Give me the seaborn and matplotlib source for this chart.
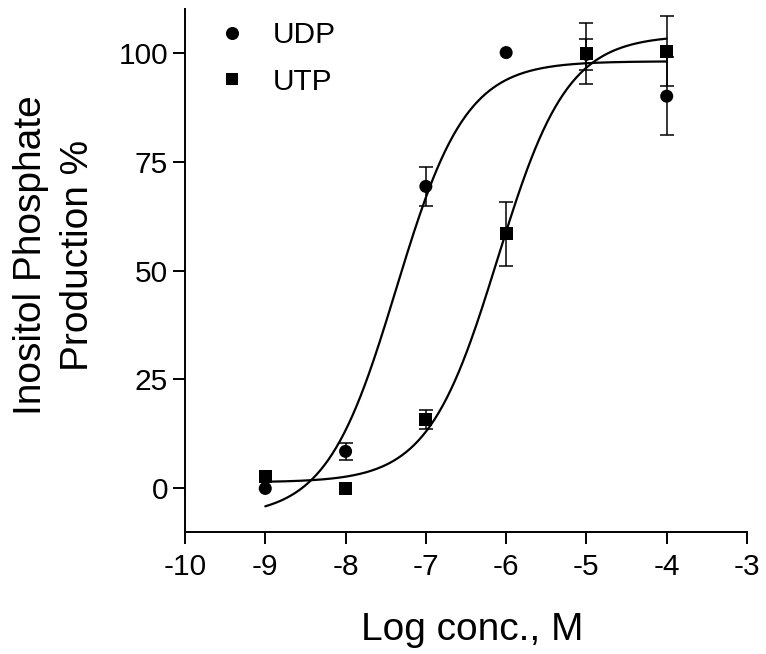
import numpy as np
import pandas as pd
import matplotlib
matplotlib.use("Agg")
import matplotlib.pyplot as plt
import seaborn as sns
from matplotlib.lines import Line2D

# ---------------- data ----------------
log_conc = [-9, -8, -7, -6, -5, -4]
udp_mean = [0.0, 8.5, 69.3, 100.0, 99.6, 90.0]
udp_err = [np.nan, 1.9, 4.5, np.nan, 3.5, 9.0]
utp_mean = [2.8, 0.0, 15.8, 58.4, 99.8, 100.3]
utp_err = [np.nan, np.nan, 2.2, 7.4, 6.9, 8.0]

# fitted sigmoid dose-response parameters (bottom, top, logEC50, Hill slope)
udp_fit = dict(bottom=-6.5, top=98.0, logec50=-7.37, hill=1.0)
utp_fit = dict(bottom=1.4, top=104.0, logec50=-6.106, hill=1.0)
curve_range = (-9.0, -4.0)

series_names = ["UDP", "UTP"]
x_ticks = [-10, -9, -8, -7, -6, -5, -4, -3]
y_ticks = [0, 25, 50, 75, 100]
x_label = "Log conc., M"
y_label = "Inositol Phosphate\nProduction %"

# ---------------- build tables ----------------
points = pd.DataFrame({
    "x": log_conc * 2,
    "y": udp_mean + utp_mean,
    "err": udp_err + utp_err,
    "agonist": ["UDP"] * len(log_conc) + ["UTP"] * len(log_conc),
})


def sigmoid(x, bottom, top, logec50, hill):
    return bottom + (top - bottom) / (1 + 10 ** ((logec50 - x) * hill))


xs = np.linspace(curve_range[0], curve_range[1], 300)
curves = pd.DataFrame({
    "x": np.concatenate([xs, xs]),
    "y": np.concatenate([sigmoid(xs, **udp_fit), sigmoid(xs, **utp_fit)]),
    "agonist": ["UDP"] * len(xs) + ["UTP"] * len(xs),
})

# ---------------- style ----------------
sns.set_theme(style="ticks")
plt.rcParams["font.family"] = ["Liberation Sans", "DejaVu Sans"]
plt.rcParams["axes.unicode_minus"] = False
plt.rcParams["text.color"] = "black"
plt.rcParams["axes.labelcolor"] = "black"

fig = plt.figure(figsize=(7.66, 6.54), dpi=100)
ax = fig.add_axes([185 / 766, 1 - 532 / 654, 562 / 766, 523 / 654])

sns.lineplot(data=curves, x="x", y="y", hue="agonist",
             palette={"UDP": "black", "UTP": "black"},
             linewidth=1.6, legend=False, ax=ax, zorder=2)

for name in series_names:
    sub = points[points["agonist"] == name]
    ax.errorbar(sub["x"], sub["y"], yerr=sub["err"], fmt="none",
                ecolor="black", elinewidth=1.1, capsize=5, capthick=1.1,
                zorder=3)

sns.scatterplot(data=points, x="x", y="y", style="agonist",
                markers={"UDP": "o", "UTP": "s"}, color="black",
                edgecolor="black", linewidth=0, s=88, legend=False,
                ax=ax, zorder=4)

ax.set_xlim(-10, -3)
ax.set_ylim(-10, 110)
ax.set_xticks(x_ticks)
ax.set_xticklabels([str(t) for t in x_ticks])
ax.set_yticks(y_ticks)
ax.set_yticklabels([str(t) for t in y_ticks])

for side in ["top", "right"]:
    ax.spines[side].set_visible(False)
for side in ["left", "bottom"]:
    ax.spines[side].set_linewidth(1.4)
    ax.spines[side].set_color("black")

ax.tick_params(axis="both", direction="out", length=8.6, width=1.4,
               colors="black", labelsize=21.5)
ax.tick_params(axis="x", pad=6.5)
ax.tick_params(axis="y", pad=3.5)

ax.set_xlabel(x_label, fontsize=28, color="black")
ax.xaxis.set_label_coords(0.5116, -0.153)
ax.set_ylabel(y_label, fontsize=28, color="black", linespacing=1.42)
ax.yaxis.label.set_verticalalignment("center")
ax.yaxis.set_label_coords(-0.232, 0.5296)

handles = [
    Line2D([], [], marker="o", linestyle="none", color="black",
           markersize=9.4, markeredgewidth=0),
    Line2D([], [], marker="s", linestyle="none", color="black",
           markersize=8.6, markeredgewidth=0),
]
leg = ax.legend(handles, series_names, loc="upper left",
                bbox_to_anchor=(0.057, 0.977), frameon=False, fontsize=21.5,
                handlelength=1.0, handletextpad=0.85, labelspacing=0.62,
                borderpad=0, borderaxespad=0)
for t in leg.get_texts():
    t.set_color("black")

fig.savefig("out.png", dpi=100, facecolor="white")
